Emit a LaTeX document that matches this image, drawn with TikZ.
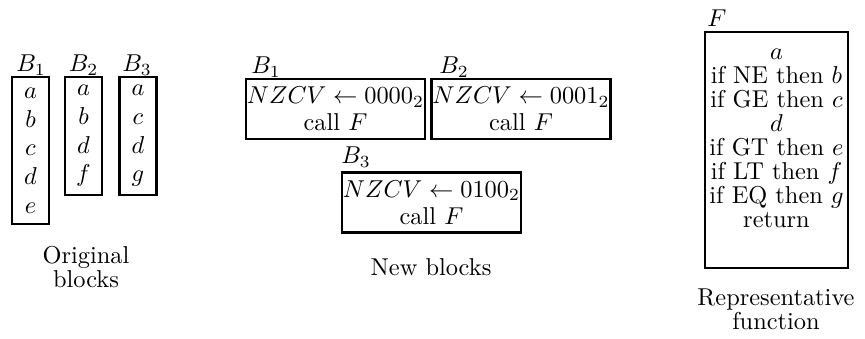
\documentclass[tikz,border=0pt]{standalone}
\begin{document}
\begin{tikzpicture}[x=0.41pt, y=-0.41pt,
  obox/.style={draw, line width=1pt, inner sep=0pt, align=center, minimum width=15.15pt,
    font=\fontsize{10}{11.78}\selectfont},
  nbox/.style={draw, line width=1pt, inner sep=0pt, align=center, minimum width=73.4pt,
    minimum height=24.6pt, font=\fontsize{10}{11.08}\selectfont},
  lbl/.style={inner sep=0pt},
  captext/.style={inner sep=0pt, align=center, font=\fontsize{10}{9.82}\selectfont}]
\useasboundingbox (0,0) rectangle (865,339);
% original blocks
\node[obox, minimum height=60.2pt] (o1) at (30.5,150.5) {$a$\\$b$\\$c$\\$d$\\$e$};
\node[obox, minimum height=48.4pt] (o2) at (83.5,136) {$a$\\$b$\\$d$\\$f$};
\node[obox, minimum height=48.4pt] (o3) at (138,136) {$a$\\$c$\\$d$\\$g$};
\node[lbl] (lo1) at (31,65) {$B_1$};
\node[lbl] (lo2) at (83.5,65) {$B_2$};
\node[lbl] (lo3) at (137,65) {$B_3$};
\node[captext] (co) at (86,267) {Original\\blocks};
% new blocks
\node[nbox] (n1) at (335.5,109) {$NZCV \leftarrow 0000_2$\\call $F$};
\node[nbox] (n2) at (521,109) {$NZCV \leftarrow 0001_2$\\call $F$};
\node[nbox] (n3) at (431.5,202.5) {$NZCV \leftarrow 0100_2$\\call $F$};
\node[lbl, anchor=west] (ln1) at (251,67) {$B_1$};
\node[lbl, anchor=west] (ln2) at (439,67) {$B_2$};
\node[lbl, anchor=west] (ln3) at (341,157) {$B_3$};
\node[captext] (cn) at (431,267) {New blocks};
% representative function
\node[draw, line width=1pt, inner sep=0pt, minimum width=58.6pt, minimum height=96.7pt] (fbox) at (776.5,150) {};
\node[inner sep=0pt, align=center, anchor=north, font=\fontsize{10}{9.83}\selectfont] (ftext) at (776.5,49)
  {$a$\\if NE then $b$\\if GE then $c$\\$d$\\if GT then $e$\\if LT then $f$\\if EQ then $g$\\return};
\node[lbl, anchor=west] (lf) at (707,18) {$F$};
\node[captext] (cf) at (776,309) {Representative\\function};
\end{tikzpicture}
\end{document}
